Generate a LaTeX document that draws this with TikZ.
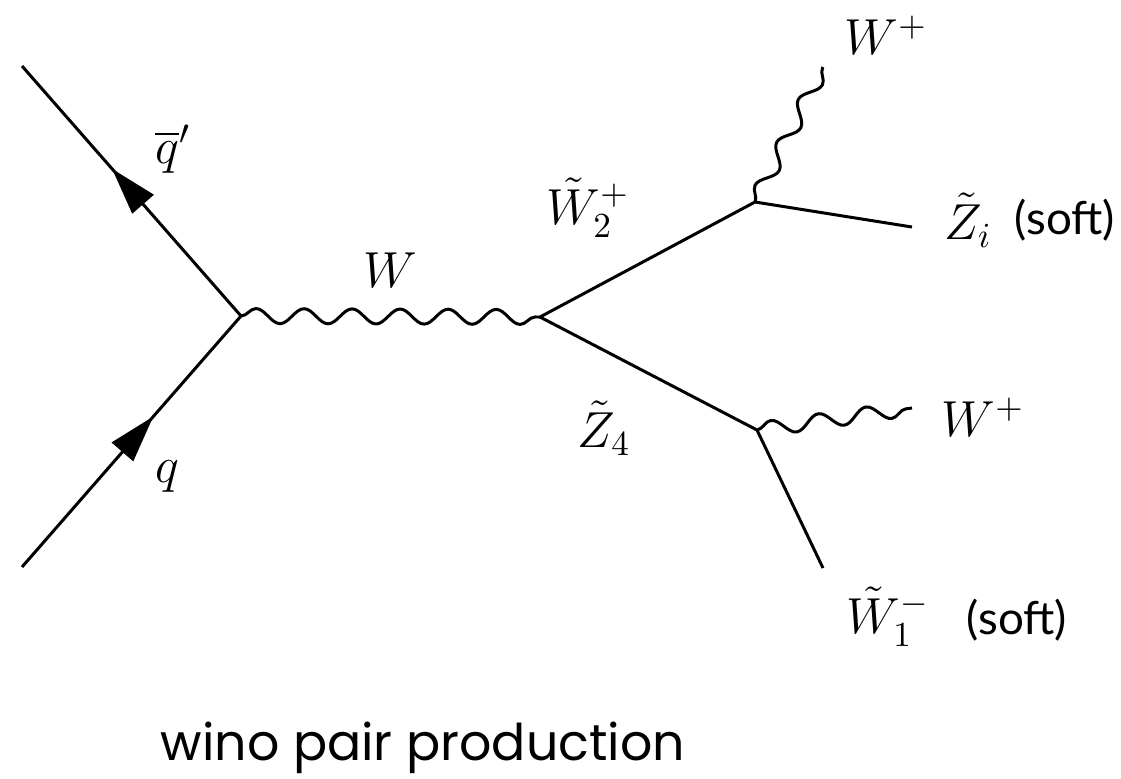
\documentclass[tikz,border=0pt]{standalone}
\usepackage{amsmath,amssymb}
\usepackage{fontspec}
\usepackage{xcolor}
\usepackage{tikz}
\usetikzlibrary{arrows.meta, positioning, calc, decorations.pathmorphing, decorations.markings}
\newfontfamily\softfont{Lato}
\newfontfamily\winofont{Poppins}

\begin{document}
\begin{tikzpicture}[x=0.01cm, y=-0.01cm,
    fermion/.style={line width=0.85pt},
    farrow/.style={fermion, decoration={markings,
        mark=at position #1 with {\arrow{Triangle[length=0.47cm, width=0.28cm]}}},
        postaction={decorate}},
    boson/.style={line width=0.85pt, decorate,
        decoration={snake, segment length=0.48cm, amplitude=0.075cm}},
    lbl/.style={inner sep=0pt, font=\fontsize{14.5}{17}\selectfont},
    soft/.style={inner sep=0pt, font=\fontsize{13}{16}\selectfont\softfont}
]
\useasboundingbox (0,0) rectangle (1121,778);

% vertices and free ends
\coordinate (v1) at (241,316);
\coordinate (v2) at (540,317);
\coordinate (v3) at (755,202);
\coordinate (v4) at (757,430);
\coordinate (qbarend) at (22,66);
\coordinate (qend)    at (22,567);
\coordinate (wupend)  at (823,67);
\coordinate (ziend)   at (912,227);
\coordinate (wdnend)  at (912,408);
\coordinate (w1end)   at (823,568);

% incoming quarks
\draw[farrow=0.59] (v1) -- (qbarend);
\draw[farrow=0.60] (qend) -- (v1);

% propagators and decays
\draw[boson]   (v1) -- (v2);
\draw[fermion] (v2) -- (v3);
\draw[fermion] (v2) -- (v4);
\draw[boson]   (v3) -- (wupend);
\draw[fermion] (v3) -- (ziend);
\draw[boson]   (v4) -- (wdnend);
\draw[fermion] (v4) -- (w1end);

% labels
\node[lbl] (lqbar) at (173,149) {$\overline{q}'$};
\node[lbl] (lq)    at (167,477) {$q$};
\node[lbl] (lw)    at (390,270) {$W$};
\node[lbl] (lw2)   at (588,208) {$\tilde{W}_2^+$};
\node[lbl] (lz4)   at (604,428) {$\tilde{Z}_4$};
\node[lbl] (lwup)  at (886,35)  {$W^+$};
\node[lbl] (lzi)   at (968,220) {$\tilde{Z}_i$};
\node[lbl] (lwdn)  at (983,417) {$W^+$};
\node[lbl] (lw1)   at (888,617) {$\tilde{W}_1^-$};
\node[soft] (softi) at (1065,220) {(soft)};
\node[soft] (soft1) at (1017,620) {(soft)};

\node[inner sep=0pt, anchor=base west, font=\fontsize{14.4}{17}\selectfont\winofont]
    (title) at (160,760) {wino pair production};
\end{tikzpicture}
\end{document}
